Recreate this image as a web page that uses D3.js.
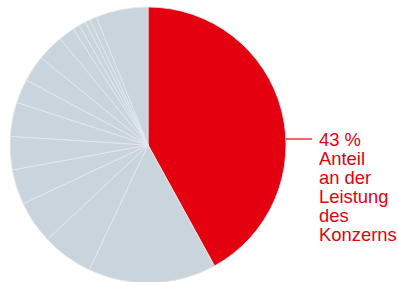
<!DOCTYPE html>
<html>
<head>
<meta charset="utf-8">
<script src="https://cdn.jsdelivr.net/npm/d3@7"></script>
<style>
  html, body { margin: 0; padding: 0; background: #ffffff; }
  svg { display: block; }
</style>
</head>
<body>
<svg id="chart" width="398" height="282"></svg>
<script>
// Data (shares of the group's output, percent)
const segments = ["Konzern-Anteil", "S2", "S3", "S4", "S5", "S6", "S7", "S8", "S9", "S10", "S11", "S12", "S13", "S14", "S15", "S16"];
const shares = [42, 15, 6, 5, 4.1, 3.9, 4, 2.8, 3.1, 3.1, 1.9, 0.8, 0.8, 0.6, 0.8, 6.1];
const labelLines = ["43 %", "Anteil", "an der", "Leistung", "des", "Konzerns"];

const svg = d3.select("#chart");
const cx = 148, cy = 145, r = 138;
const red = "#e3000f", grey = "#c9d4dc";

const pie = d3.pie().sort(null).value(d => d.v);
const arc = d3.arc().innerRadius(0).outerRadius(r);
const data = segments.map((s, i) => ({ s, v: shares[i] }));

const g = svg.append("g").attr("transform", `translate(${cx},${cy})`);
g.selectAll("path")
  .data(pie(data))
  .join("path")
  .attr("d", arc)
  .attr("fill", (d, i) => i === 0 ? red : grey)
  .attr("stroke", "#e4eaef")
  .attr("stroke-width", 0.8)
  .attr("stroke-linejoin", "round");

// Leader line
svg.append("line")
  .attr("x1", cx + r).attr("x2", 312)
  .attr("y1", 139).attr("y2", 139)
  .attr("stroke", red).attr("stroke-width", 1.2);

// Label
const text = svg.append("text")
  .attr("x", 319)
  .attr("y", 146)
  .attr("fill", red)
  .attr("font-family", "'Liberation Sans', Arial, Helvetica, sans-serif")
  .attr("font-size", 18.4);
text.selectAll("tspan")
  .data(labelLines)
  .join("tspan")
  .attr("x", 319)
  .attr("dy", (d, i) => i === 0 ? 0 : 18.9)
  .text(d => d);
</script>
</body>
</html>
